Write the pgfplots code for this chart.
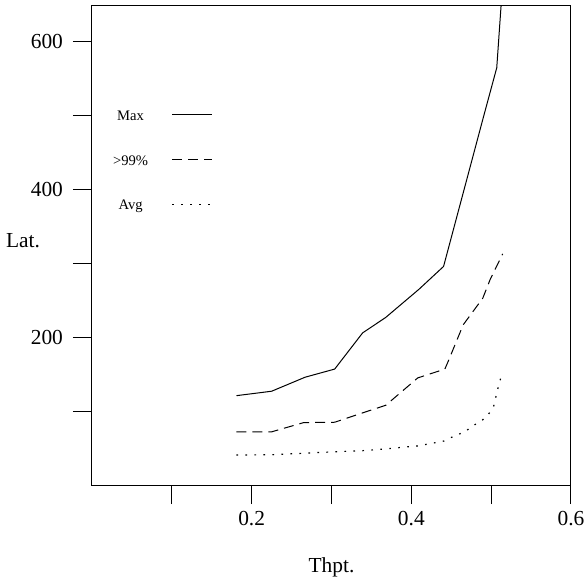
\documentclass[border=0pt]{standalone}
\usepackage{fontspec}
\setmainfont{Liberation Serif}
\usepackage{pgfplots}
\pgfplotsset{compat=1.18}
\begin{document}
\begin{tikzpicture}
\begin{axis}[
    at={(0,0)}, anchor=south west,
    scale only axis, width=239.5pt, height=240pt,
    xmin=0, xmax=0.6, ymin=0, ymax=650,
    xtick={0.1,0.2,0.3,0.4,0.5,0.6}, xticklabels={,0.2,,0.4,,0.6},
    ytick={100,200,300,400,500,600}, yticklabels={,200,,400,,600},
    tick align=outside, tick pos=left, major tick length=9.5pt,
    axis line style={line width=0.5pt},
    tick style={line width=0.5pt, black},
    ticklabel style={font=\fontsize{10.7}{12}\selectfont},
    yticklabel style={xshift=-1.5pt},
    xlabel={Thpt.}, ylabel={Lat.},
    every axis x label/.style={at={(axis description cs:0.5,0)}, anchor=center, yshift=-41pt, font=\fontsize{10.7}{12}\selectfont},
    every axis y label/.style={at={(axis description cs:0,0.51)}, anchor=east, xshift=-22.5pt, font=\fontsize{10.7}{12}\selectfont},
    legend plot pos=right, legend cell align=center,
    legend style={draw=none, fill=none, inner sep=0pt, nodes={inner sep=0pt},
        at={(axis description cs:0.0432,0.781)}, anchor=north west,
        font=\fontsize{7.3}{8}\selectfont, row sep=16.1pt, column sep=11.8pt},
    legend image code/.code={\draw[#1] (0pt,1.2pt) -- (20pt,1.2pt);},
]
\addplot[black, line width=0.5pt] coordinates {
    (0.181,121) (0.225,127) (0.267,146) (0.304,157) (0.339,206) (0.368,227)
    (0.4095,265) (0.4404,296) (0.4895,495) (0.507,565) (0.5157,700)
};
\addlegendentry{Max}
\addplot[black, line width=0.5pt, dash pattern=on 5pt off 3pt] coordinates {
    (0.181,72) (0.225,72) (0.265,84.5) (0.304,85) (0.339,97.7) (0.368,108)
    (0.408,145) (0.442,157) (0.446,167) (0.465,217) (0.4895,253) (0.499,279) (0.5145,313)
};
\addlegendentry{>99\%}
\addplot[black, line width=0.6pt, dash pattern=on 0.8pt off 3.7pt] coordinates {
    (0.181,40.6) (0.225,41) (0.265,43) (0.304,45) (0.339,46.5) (0.368,49)
    (0.409,53) (0.441,59.6) (0.453,66) (0.467,72) (0.477,80) (0.489,88)
    (0.4966,95.8) (0.503,106) (0.506,120) (0.509,133) (0.5125,147)
};
\addlegendentry{Avg}
\end{axis}
\pgfresetboundingbox
\useasboundingbox (-46pt,-47.5pt) rectangle (248pt,242.5pt);
\end{tikzpicture}
\end{document}
